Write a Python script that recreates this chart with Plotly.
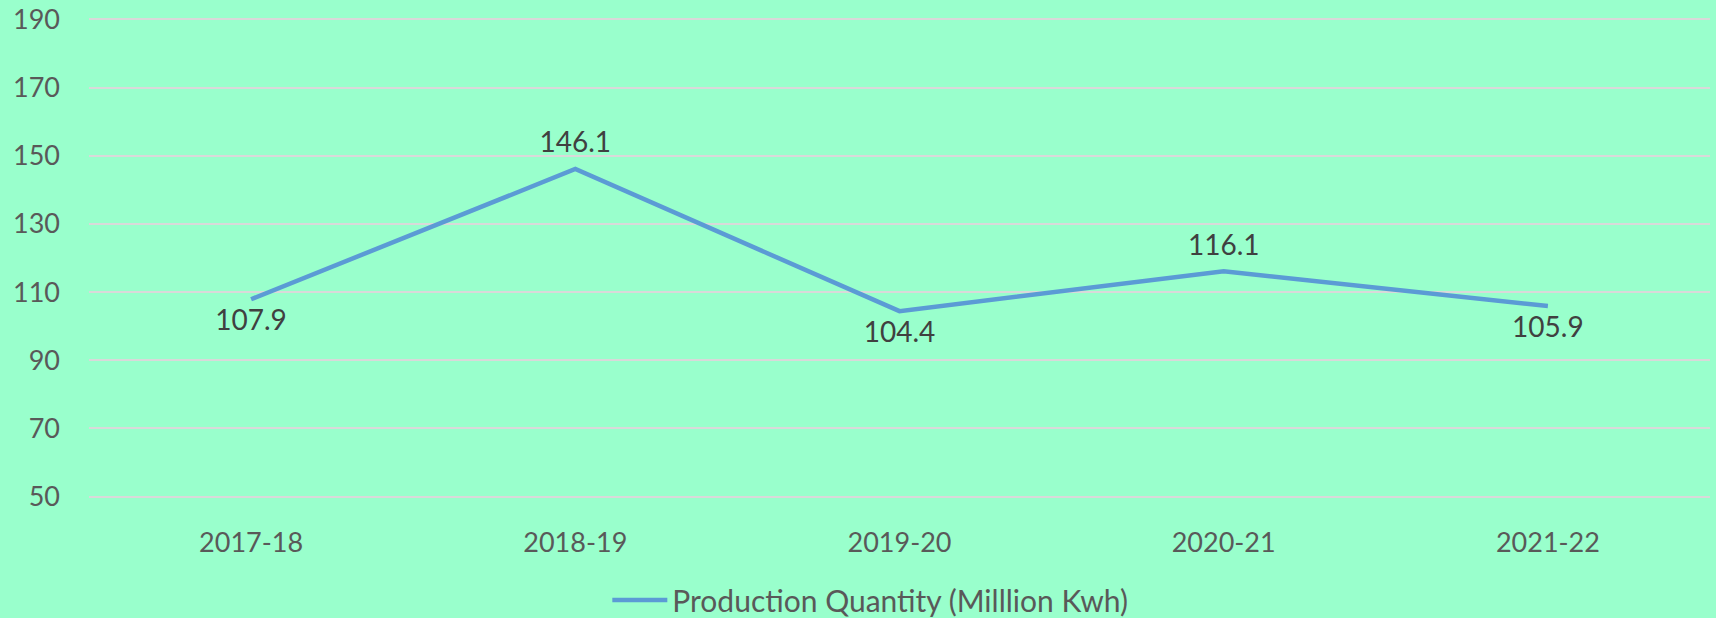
import plotly.graph_objects as go

categories = ["2017-18", "2018-19", "2019-20", "2020-21", "2021-22"]
production = [107.9, 146.1, 104.4, 116.1, 105.9]
label_positions = ["bottom center", "top center", "bottom center", "top center", "bottom center"]
y_ticks = [50, 70, 90, 110, 130, 150, 170, 190]
series_name = "Production Quantity (Milllion Kwh)"

BG = "#99FFCC"
FONT = "Lato"

fig = go.Figure()
fig.add_trace(go.Scatter(
    x=categories, y=production, name=series_name,
    mode="lines+markers+text",
    line=dict(color="#5B9BD5", width=4.5),
    marker=dict(size=14, color="rgba(0,0,0,0)"),
    text=[f"{v:.1f}" for v in production],
    textposition=label_positions,
    textfont=dict(family=FONT, size=28, color="#404040"),
    cliponaxis=False,
))

fig.update_layout(
    width=1716, height=618,
    paper_bgcolor=BG, plot_bgcolor=BG,
    margin=dict(l=89, r=6, t=18, b=120, autoexpand=False),
    font=dict(family=FONT, size=27, color="#595959"),
    showlegend=True,
    legend=dict(orientation="h", x=0.482, xanchor="center", y=-0.2125, yanchor="middle",
                itemwidth=55,
                font=dict(family=FONT, size=30, color="#595959"), bgcolor="rgba(0,0,0,0)"),
    xaxis=dict(type="category", range=[-0.5, 4.5], showgrid=False, zeroline=False,
               showline=False, ticks="", ticklabelstandoff=26,
               tickfont=dict(family=FONT, size=27, color="#595959")),
    yaxis=dict(range=[49.6, 190.4], tickvals=y_ticks, showgrid=True, gridcolor="#D9D9D9",
               gridwidth=2, zeroline=False, showline=False, ticks="",
               ticklabeloverflow="allow",
               ticklabelstandoff=28, tickfont=dict(family=FONT, size=27, color="#595959")),
)

fig.write_html("out.html", config={"displayModeBar": False},
               post_script="document.body.style.margin='0';document.body.style.background='#99FFCC';")
